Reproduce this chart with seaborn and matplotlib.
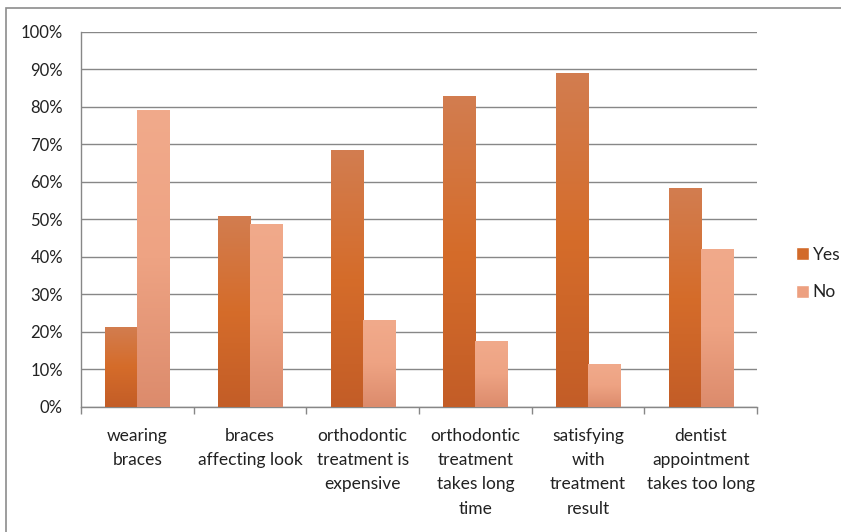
import numpy as np
import pandas as pd
import seaborn as sns
import matplotlib.pyplot as plt
import matplotlib.ticker as mticker
from matplotlib.colors import LinearSegmentedColormap
from matplotlib.patches import Rectangle, Patch

categories = [
    "wearing\nbraces",
    "braces\naffecting look",
    "orthodontic\ntreatment is\nexpensive",
    "orthodontic\ntreatment\ntakes long\ntime",
    "satisfying\nwith\ntreatment\nresult",
    "dentist\nappointment\ntakes too long",
]
yes_vals = [0.214, 0.510, 0.684, 0.830, 0.891, 0.583]
no_vals = [0.791, 0.489, 0.231, 0.175, 0.114, 0.422]

df = pd.DataFrame({
    "category": categories * 2,
    "answer": ["Yes"] * len(categories) + ["No"] * len(categories),
    "share": yes_vals + no_vals,
})

sns.set_theme(style="white")
plt.rcParams["font.family"] = ["Lato", "DejaVu Sans"]

fig = plt.figure(figsize=(8.41, 5.32), dpi=100)
ax = fig.add_axes([0.0963, 0.235, 0.804, 0.705])

palette = {"Yes": "#D26A2A", "No": "#EDA080"}
sns.barplot(data=df, x="category", y="share", hue="answer", palette=palette,
            width=0.57, saturation=1, ax=ax, legend=False)

# vertical gradient fills like the original office chart
grads = {
    "Yes": LinearSegmentedColormap.from_list("yes", ["#C35D27", "#D56C2A", "#D27D50"]),
    "No": LinearSegmentedColormap.from_list("no", ["#DC8B6C", "#EEA383", "#F1AA8B"]),
}
grad = np.linspace(0, 1, 256).reshape(-1, 1)
for cont, name in zip(ax.containers, ["Yes", "No"]):
    for bar in cont:
        x0, y0 = bar.get_x(), bar.get_y()
        w, h = bar.get_width(), bar.get_height()
        im = ax.imshow(grad, extent=[x0, x0 + w, y0, y0 + h], origin="lower",
                       aspect="auto", cmap=grads[name], zorder=3)
        im.set_clip_path(bar)
        bar.set_facecolor("none")
        bar.set_edgecolor("none")

ax.set_xlim(-0.5, len(categories) - 0.5)
ax.set_ylim(0, 1.0)
ax.yaxis.set_major_locator(mticker.MultipleLocator(0.1))
ax.yaxis.set_major_formatter(mticker.PercentFormatter(1.0, decimals=0))
ax.yaxis.grid(True, color="#878787", linewidth=1.0)
ax.set_axisbelow(True)

# category boundaries carry the tick marks, labels sit at centres
ax.set_xticks(np.arange(-0.5, len(categories), 1.0))
ax.set_xticklabels([])
ax.set_xticks(np.arange(len(categories)), minor=True)
ax.set_xticklabels(categories, minor=True, fontsize=12.5, color="#222222",
                   linespacing=1.64, va="top")
ax.tick_params(axis="x", which="major", bottom=True, length=5, width=1, color="#878787")
ax.tick_params(axis="x", which="minor", bottom=False, length=0, pad=15)
ax.tick_params(axis="y", left=False, labelsize=12, labelcolor="#222222", pad=7)

ax.set_xlabel("")
ax.set_ylabel("")
for side in ["top", "right"]:
    ax.spines[side].set_visible(False)
for side in ["left", "bottom"]:
    ax.spines[side].set_color("#878787")
    ax.spines[side].set_linewidth(1)

handles = [Patch(facecolor="#D26A2A", label="Yes"), Patch(facecolor="#EDA080", label="No")]
fig.legend(handles=handles, loc="center left", bbox_to_anchor=(0.928, 0.486),
           frameon=False, fontsize=12.5, handlelength=0.75, handleheight=0.75,
           handletextpad=0.2, labelspacing=1.25, labelcolor="#222222")

fig.add_artist(Rectangle((0.007, -0.05), 1.1, 1.035, transform=fig.transFigure,
                         fill=False, edgecolor="#8C8C8C", linewidth=1.2))

fig.savefig("out.png", dpi=100)
plt.close(fig)
